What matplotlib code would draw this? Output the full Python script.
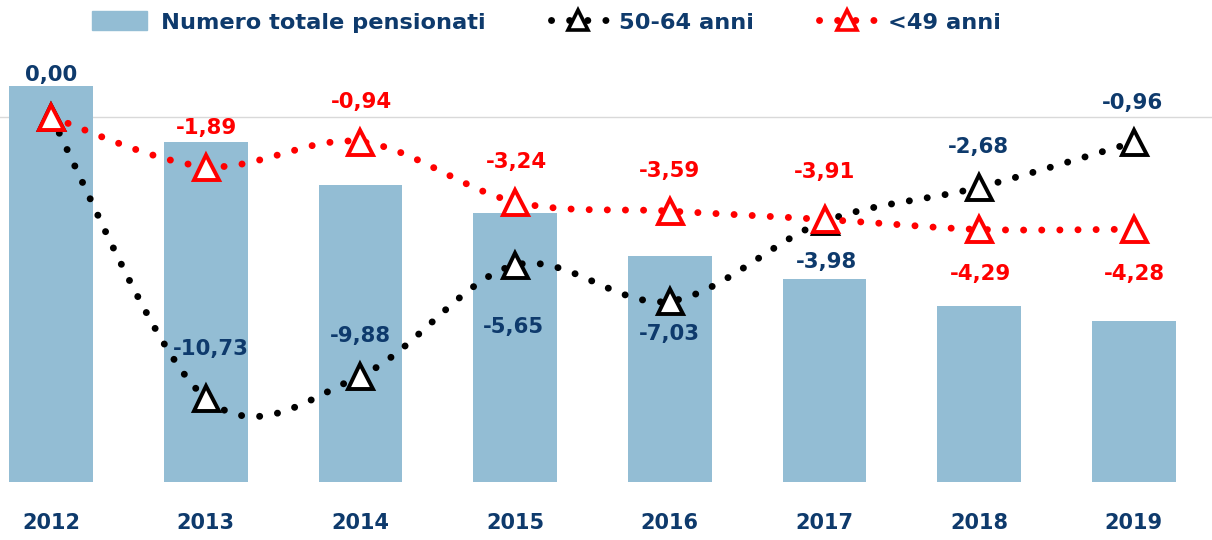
import numpy as np
import matplotlib
matplotlib.use('Agg')
import matplotlib.pyplot as plt
from matplotlib.patches import Patch
from matplotlib.lines import Line2D
from matplotlib.transforms import blended_transform_factory

years = ['2012', '2013', '2014', '2015', '2016', '2017', '2018', '2019']
# bar series: total pensioners, index (2012 = 100)
pensionati = [100.0, 85.9, 75.0, 67.9, 57.1, 51.3, 44.4, 40.7]
# percentage change vs 2012
anni_50_64 = [0.00, -10.73, -9.88, -5.65, -7.03, -3.98, -2.68, -0.96]
anni_49 = [0.00, -1.89, -0.94, -3.24, -3.59, -3.91, -4.29, -4.28]

NAVY = '#0E3A6C'
RED = '#FF0000'
BAR = '#93BDD4'
plt.rcParams['font.family'] = ['DejaVu Sans']
plt.rcParams['font.weight'] = 'bold'

# label offsets in pixels (dx, dy)
off_black = [(0, 42), (5, 49), (0, 40), (-2, -62), (0, -33), (2, -41), (-1, 40), (-1, 39)]
off_red = [None, (1, 39), (1, 40), (1, 40), (0, 40), (0, 47), (1, -45), (1, -45)]


def smooth(xs, ys, n=40):
    # Catmull-Rom curve through the points (Excel-style smoothed line)
    xs = np.asarray(xs, float)
    ys = np.asarray(ys, float)
    px = np.concatenate([[xs[0]], xs, [xs[-1]]])
    py = np.concatenate([[ys[0]], ys, [ys[-1]]])
    out_x, out_y = [], []
    t = np.linspace(0, 1, n)
    h00 = 2*t**3 - 3*t**2 + 1
    h10 = t**3 - 2*t**2 + t
    h01 = -2*t**3 + 3*t**2
    h11 = t**3 - t**2
    for i in range(1, len(px) - 2):
        mx0 = (px[i+1] - px[i-1]) / 2
        mx1 = (px[i+2] - px[i]) / 2
        my0 = (py[i+1] - py[i-1]) / 2
        my1 = (py[i+2] - py[i]) / 2
        out_x.extend(h00*px[i] + h10*mx0 + h01*px[i+1] + h11*mx1)
        out_y.extend(h00*py[i] + h10*my0 + h01*py[i+1] + h11*my1)
    return out_x, out_y


fig = plt.figure(figsize=(12.12, 5.4), dpi=100)
ax = fig.add_axes([0, 58/540, 1, 442/540])
axb = ax.twinx()
ax.set_zorder(2)
axb.set_zorder(1)
ax.patch.set_visible(False)

x = np.arange(len(years))
axb.bar(x, pensionati, width=0.54, color=BAR, zorder=2)
axb.set_ylim(0, 111.6)
ax.set_xlim(-0.33, 7.505)
ax.set_ylim(-13.93, 2.94)

tr = blended_transform_factory(axb.transAxes, ax.transData)
axb.plot([0, 1], [0, 0], color='#D9D9D9', lw=1, transform=tr, zorder=1)

LW = 5.0
dots = (0, (0.01, 2.6))
for vals, col, offs in [(anni_50_64, 'black', off_black), (anni_49, RED, off_red)]:
    sx, sy = smooth(x, vals)
    ax.plot(sx, sy, color=col, lw=LW, ls=dots, dash_capstyle='round', zorder=3)
    ax.plot(x, vals, ls='none', marker='^', ms=18, mfc='white', mec=col, mew=2.8, zorder=4)
    tcol = NAVY if col == 'black' else RED
    for xi, v, o in zip(x, vals, offs):
        if o is None:
            continue
        ax.annotate(f'{v:.2f}'.replace('.', ','), (xi, v), xytext=o, textcoords='offset pixels',
                    ha='center', va='center', color=tcol, fontsize=15.3, fontweight='bold', zorder=5)

ax.set_xticks(x, years)
ax.tick_params(axis='x', length=0, pad=22, labelsize=15, labelcolor=NAVY)
ax.set_yticks([])
axb.set_yticks([])
for a in (ax, axb):
    for s in a.spines.values():
        s.set_visible(False)

handles = [
    Patch(color=BAR),
    Line2D([], [], color='black', lw=LW, ls=dots, dash_capstyle='round', marker='^', ms=14,
           mfc='white', mec='black', mew=2.6),
    Line2D([], [], color=RED, lw=LW, ls=dots, dash_capstyle='round', marker='^', ms=14,
           mfc='white', mec=RED, mew=2.6),
]
fig.legend(handles, ['Numero totale pensionati', '50-64 anni', '<49 anni'], loc='center',
           bbox_to_anchor=(0.451, 1 - 22/540), ncol=3, frameon=False, labelcolor=NAVY,
           prop={'size': 16.2, 'weight': 'bold'}, handlelength=2.45, handleheight=0.9,
           handletextpad=0.6, columnspacing=2.9)

fig.savefig('out.png', dpi=100)
